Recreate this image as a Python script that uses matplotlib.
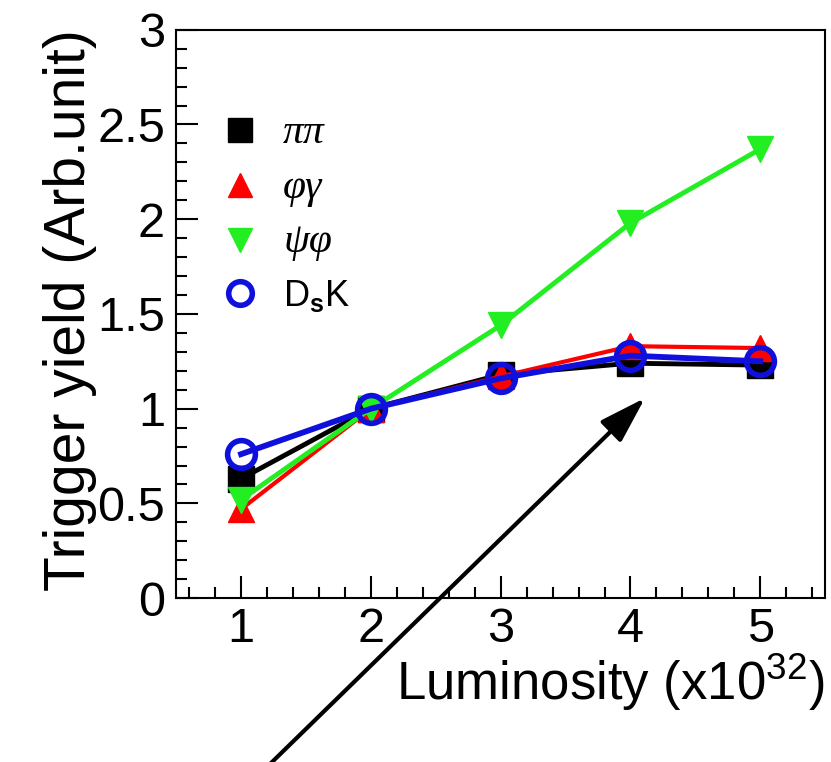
import numpy as np
import matplotlib.pyplot as plt
from matplotlib.ticker import MultipleLocator, FormatStrFormatter

plt.rcParams['font.family'] = ['Liberation Sans', 'DejaVu Sans']
plt.rcParams['mathtext.fontset'] = 'custom'
plt.rcParams['mathtext.rm'] = 'Liberation Sans'
plt.rcParams['mathtext.bf'] = 'Liberation Sans:bold'

# luminosity in units of 1e32
lumi = [1, 2, 3, 4, 5]

# trigger yields
pipi = [0.63, 1.0, 1.18, 1.24, 1.23]
phigamma = [0.47, 1.0, 1.17, 1.33, 1.32]
psiphi = [0.52, 1.0, 1.44, 1.98, 2.37]
dsk = [0.76, 1.0, 1.16, 1.28, 1.25]

labels = ['\u03c0\u03c0', '\u03c6\u03b3', '\u03c8\u03c6', r'D$_{\mathbf{s}}$K']

fig = plt.figure(figsize=(8.31, 7.62), dpi=100)
ax = fig.add_axes([0.212, 0.215, 0.781, 0.746])

ax.plot(lumi, pipi, color='black', lw=3.5, marker='s', ms=19, label=labels[0])
ax.plot(lumi, phigamma, color='red', lw=3, marker='^', ms=19, label=labels[1])
ax.plot(lumi, psiphi, color='#22ee22', lw=3.5, marker='v', ms=19, label=labels[2])
ax.plot(lumi, dsk, color='#1010dd', lw=4.2, marker='o', ms=20, mfc='none',
        mew=4, label=labels[3])

ax.set_xlim(0.5, 5.5)
ax.set_ylim(0, 3)
ax.xaxis.set_major_locator(MultipleLocator(1))
ax.xaxis.set_minor_locator(MultipleLocator(0.2))
ax.yaxis.set_major_locator(MultipleLocator(0.5))
ax.yaxis.set_minor_locator(MultipleLocator(0.1))
ax.yaxis.set_major_formatter(FormatStrFormatter('%g'))
ax.tick_params(which='both', direction='in', labelsize=35, width=1.5)
ax.tick_params(which='major', length=16)
ax.tick_params(axis='x', which='major', pad=6)
ax.tick_params(axis='y', which='major', pad=8)
ax.tick_params(which='minor', length=8)
for s in ax.spines.values():
    s.set_linewidth(1.5)

ax.set_xlabel(r'Luminosity (x10$^{32}$)', fontsize=38, loc='right', labelpad=0)
ax.set_ylabel('Trigger yield (Arb.unit)', fontsize=41, loc='top', labelpad=0)

leg = ax.legend(loc='upper left', bbox_to_anchor=(0.02, 0.91), frameon=False,
                fontsize=26, labelspacing=0.45, handlelength=1.0,
                handletextpad=0.7)
for h in leg.legend_handles:
    h.set_linestyle('none')
    h.set_markersize(17)
for t in leg.get_texts()[:3]:
    t.set_fontfamily(['Liberation Serif', 'DejaVu Serif'])
    t.set_fontstyle('italic')
    t.set_fontsize(30)

# arrow pointing at the plateau, starting below the figure edge
ax.annotate('', xy=(645, 364), xytext=(268, -4), xycoords='figure pixels',
            textcoords='figure pixels',
            arrowprops=dict(arrowstyle='-|>,head_length=0.8,head_width=0.25',
                            color='black', lw=3, mutation_scale=36,
                            shrinkA=0, shrinkB=0))

fig.savefig('out.png', dpi=100)
